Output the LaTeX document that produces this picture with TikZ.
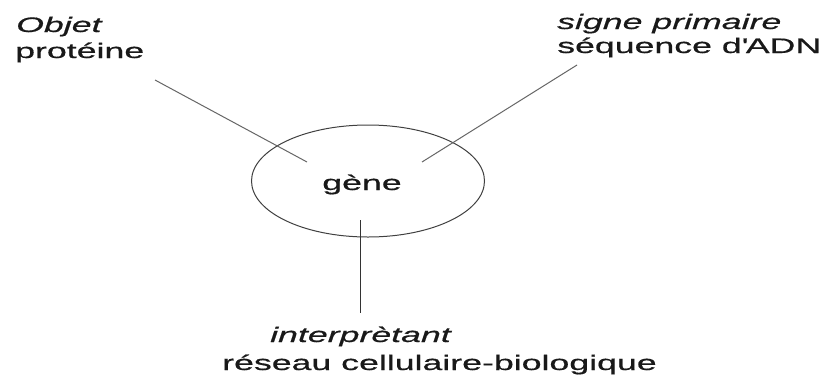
\documentclass[tikz,border=0pt]{standalone}
\usepackage{fontspec}
\usetikzlibrary{shapes.geometric}
\setmainfont{Liberation Sans}[FakeStretch=1.7,FakeBold=0.6]
\begin{document}
\begin{tikzpicture}[x=1pt,y=-1pt,
  lbl/.style={inner sep=0pt, anchor=base west, font=\fontsize{21}{24}\selectfont, text=black!90},
  link/.style={line width=1pt, draw=black!60},
  gen/.style={ellipse, draw=black!75, line width=1pt, minimum width=233pt, minimum height=112pt, inner sep=0pt}]
\useasboundingbox (0,0) rectangle (839,381);
\fill[white] (0,0) rectangle (839,381);
\node[lbl] (obj) at (16,32) {\itshape Objet};
\node[lbl] (prot) at (15,58) {protéine};
\node[lbl] (sig) at (557,29) {\itshape signe primaire};
\node[lbl] (seq) at (557,53) {séquence d\textquotesingle ADN};
\node[lbl] (interp) at (270,342) {\itshape interprètant};
\node[lbl] (res) at (222,370) {réseau cellulaire-biologique};
\node[gen] (ell) at (368,181) {};
\node[lbl, anchor=base] (gene) at (362,190) {gène};
\coordinate (a1) at (155,80);
\coordinate (a2) at (307,162);
\coordinate (b1) at (577,65);
\coordinate (b2) at (422,162);
\coordinate (c1) at (360,220);
\coordinate (c2) at (360,313);
\draw[link] (a1) -- (a2);
\draw[link] (b1) -- (b2);
\draw[link, draw=black!80] (c1) -- (c2);
\end{tikzpicture}
\end{document}
